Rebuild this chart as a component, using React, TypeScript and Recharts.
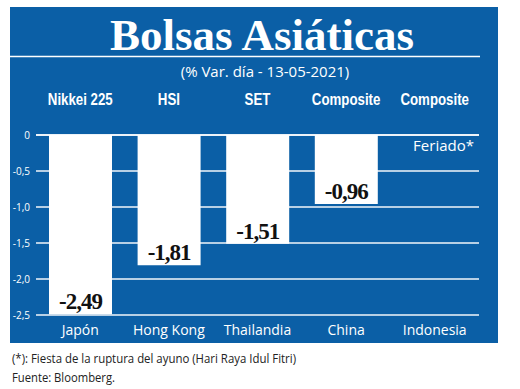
import React from 'react';
import { BarChart, Bar, XAxis, YAxis, CartesianGrid, LabelList, ReferenceLine } from 'recharts';

const countries = ['Japón', 'Hong Kong', 'Thailandia', 'China', 'Indonesia'];
const indices = ['Nikkei 225', 'HSI', 'SET', 'Composite', 'Composite'];
const changes: (number | null)[] = [-2.49, -1.81, -1.51, -0.96, null];
const yTicks = [0, -0.5, -1, -1.5, -2, -2.5];

const data = countries.map((c, i) => ({ country: c, index: indices[i], change: changes[i] }));

const BLUE = '#0b5fa6';
const fmt = (v: number) => (v === 0 ? '0' : v.toFixed(1).replace('.', ','));
const fmt2 = (v: number) => v.toFixed(2).replace('.', ',');

const ValueLabel = (props: any) => {
  const vb = props.viewBox || props;
  const { x, y, width, height } = vb;
  const v = props.value;
  if (v === null || v === undefined) return null;
  const bottom = Math.max(y, y + height);
  return (
    <text
      x={x + width / 2}
      y={bottom - 5}
      textAnchor="middle"
      fill="#111"
      fontFamily="'Liberation Serif', serif"
      fontWeight="bold"
      fontSize={23}
      letterSpacing={-1}
    >
      {fmt2(v)}
    </text>
  );
};

const HeaderTick = (props: any) => {
  const { x, y, payload } = props;
  return (
    <g transform={`translate(${x},${y}) scale(0.83,1)`}>
      <text x={0} y={0} textAnchor="middle" fill="#fff" fontFamily="'Liberation Sans', Arial, sans-serif" fontWeight="bold" fontSize={16}>
        {payload.value}
      </text>
    </g>
  );
};

export default function App() {
  return (
    <div style={{ position: 'absolute', left: 0, top: 0, width: 520, height: 389, background: '#fff' }}>
      <div style={{ position: 'absolute', left: 10, top: 7, width: 488, height: 336, background: BLUE }}>
        <BarChart
          width={488}
          height={336}
          data={data}
          margin={{ top: 100, right: 19, bottom: 0, left: 0 }}
          barSize={63}
        >
          <CartesianGrid horizontal vertical={false} stroke="#ffffff" strokeWidth={1.5} strokeOpacity={0.95} />
          <XAxis
            xAxisId="top"
            orientation="top"
            dataKey="index"
            height={28}
            axisLine={false}
            tickLine={false}
            tickSize={0}
            tickMargin={30}
            interval={0}
            tick={<HeaderTick />}
          />
          <XAxis
            xAxisId="bottom"
            dataKey="country"
            height={28}
            axisLine={false}
            tickLine={false}
            tickSize={0}
            tickMargin={10}
            interval={0}
            tick={{ fill: '#ffffff', fontSize: 14, fontFamily: "'Open Sans', sans-serif" }}
          />
          <YAxis
            type="number"
            domain={[-2.5, 0]}
            ticks={yTicks}
            width={26}
            axisLine={false}
            tickLine={false}
            tickSize={0}
            tickMargin={6}
            tickFormatter={fmt}
            tick={{ fill: '#ffffff', fontSize: 10, fontFamily: "'Open Sans', sans-serif" }}
          />
          <ReferenceLine
            y={0}
            xAxisId="bottom"
            stroke="#ffffff"
            strokeWidth={1.5}
            label={{ value: 'Feriado*', position: 'insideTopRight', offset: 5, fill: '#ffffff', fontSize: 15, fontFamily: "'Open Sans', sans-serif" }}
          />
          <Bar dataKey="change" xAxisId="bottom" fill="#ffffff" isAnimationActive={false}>
            <LabelList dataKey="change" content={ValueLabel} />
          </Bar>
        </BarChart>
      </div>
      <svg width={520} height={389} style={{ position: 'absolute', left: 0, top: 0, pointerEvents: 'none' }}>
        <text x={262} y={50} textAnchor="middle" fill="#fff" fontFamily="'Liberation Serif', serif" fontWeight="bold" fontSize={45}>
          Bolsas Asiáticas
        </text>
        <line x1={10} x2={480} y1={56.5} y2={56.5} stroke="#fff" strokeWidth={1.5} />
        <text x={265} y={77} textAnchor="middle" fill="#fff" fontFamily="'Open Sans', sans-serif" fontSize={15}>
          (% Var. día - 13-05-2021)
        </text>
        <text x={12} y={363} fill="#222" fontFamily="'Open Sans', sans-serif" fontSize={13} textLength={284} lengthAdjust="spacingAndGlyphs">
          (*): Fiesta de la ruptura del ayuno (Hari Raya Idul Fitri)
        </text>
        <text x={12} y={382} fill="#222" fontFamily="'Open Sans', sans-serif" fontSize={13} textLength={103} lengthAdjust="spacingAndGlyphs">
          Fuente: Bloomberg.
        </text>
      </svg>
    </div>
  );
}
